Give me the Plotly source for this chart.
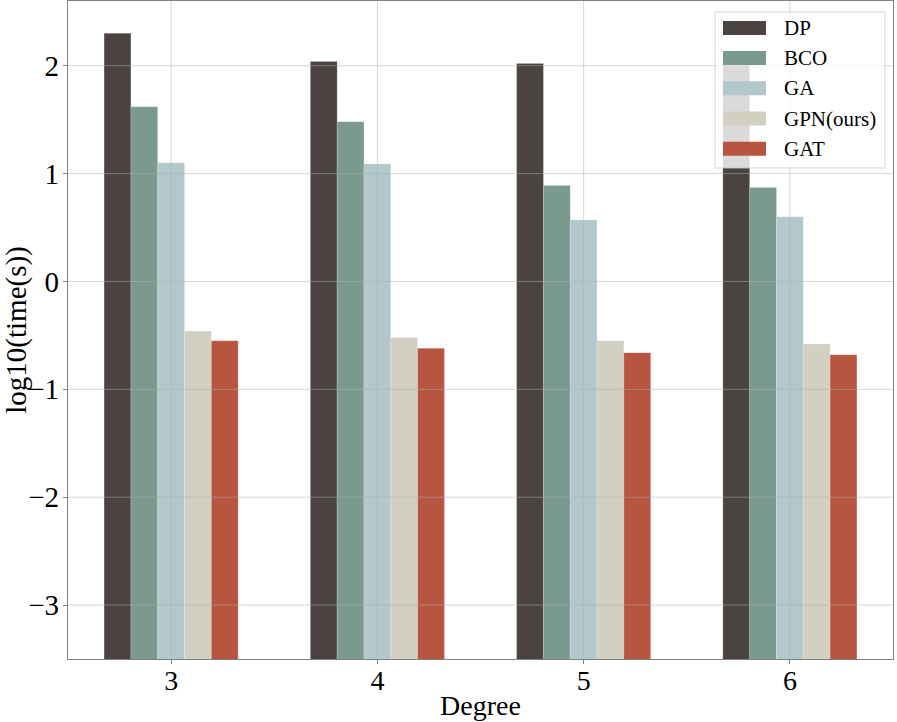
import plotly.graph_objects as go

degrees = [3, 4, 5, 6]
methods = ["DP", "BCO", "GA", "GPN(ours)", "GAT"]
dp = [2.30, 2.04, 2.02, 2.01]
bco = [1.62, 1.48, 0.89, 0.87]
ga = [1.10, 1.09, 0.57, 0.60]
gpn = [-0.46, -0.52, -0.55, -0.58]
gat = [-0.55, -0.62, -0.66, -0.68]
series = [dp, bco, ga, gpn, gat]
colors = ["#4b4341", "#7a9a8e", "#b2c8cc", "#d1d0c1", "#b85540"]
yticks = [-3, -2, -1, 0, 1, 2]
y_range = [-3.5, 2.6]
x_range = [2.5, 6.5]
bar_base = -4.0
bar_w = 0.13

FONT = "Liberation Serif, Times New Roman, serif"
fig = go.Figure()
n = len(methods)
for i, (name, vals, c) in enumerate(zip(methods, series, colors)):
    off = (i - (n - 1) / 2) * bar_w
    fig.add_trace(go.Bar(
        x=[d + off for d in degrees],
        y=[v - bar_base for v in vals],
        base=bar_base,
        width=bar_w,
        name=name,
        marker=dict(color=c, line=dict(width=0.6, color="rgba(255,255,255,0.3)")),
        showlegend=False,
    ))

# grid lines drawn above bars (matplotlib style with axisbelow=False)
gridc = "rgba(176,176,176,0.5)"
shapes = []
for t in degrees:
    shapes.append(dict(type="line", xref="x", yref="paper", x0=t, x1=t, y0=0, y1=1,
                       line=dict(color=gridc, width=1), layer="above"))
for t in yticks:
    shapes.append(dict(type="line", xref="paper", yref="y", x0=0, x1=1, y0=t, y1=t,
                       line=dict(color=gridc, width=1), layer="above"))

# custom legend (matplotlib look)
W, H = 897, 722
ml, mr, mt, mb = 68, 4, 1, 63
pw, ph = W - ml - mr, H - mt - mb
def px2paper(x, y):
    return (x - ml) / pw, 1 - (y - mt) / ph
x0, y0 = px2paper(715, 12)
x1, y1 = px2paper(885, 168)
shapes.append(dict(type="rect", xref="paper", yref="paper", x0=x0, x1=x1, y0=y1, y1=y0,
                   fillcolor="rgba(255,255,255,0.8)", line=dict(color="rgba(204,204,204,0.8)", width=1),
                   layer="above"))
annotations = []
ycent = [28, 58, 88.3, 118.5, 148.7]
for name, c, yc in zip(methods, colors, ycent):
    sx0, sy0 = px2paper(723, yc - 7)
    sx1, sy1 = px2paper(766, yc + 7)
    shapes.append(dict(type="rect", xref="paper", yref="paper", x0=sx0, x1=sx1, y0=sy1, y1=sy0,
                       fillcolor=c, line=dict(width=0), layer="above"))
    tx, ty = px2paper(782, yc)
    annotations.append(dict(x=tx, y=ty, xref="paper", yref="paper", text=name, showarrow=False,
                            xanchor="left", yanchor="middle",
                            font=dict(family=FONT, size=21, color="black")))

fig.update_layout(
    width=W, height=H,
    margin=dict(l=ml, r=mr, t=mt, b=mb, autoexpand=False),
    paper_bgcolor="white", plot_bgcolor="white",
    barmode="overlay",
    shapes=shapes, annotations=annotations,
    showlegend=False,
    font=dict(family=FONT, color="black"),
)
fig.update_xaxes(range=x_range, tickvals=degrees, ticktext=[str(d) for d in degrees],
                 showgrid=False, zeroline=False, automargin=False,
                 showline=True, linecolor="#808080", linewidth=1.2, mirror=True,
                 ticks="outside", ticklen=4, tickcolor="#808080",
                 ticklabelstandoff=-8,
                 tickfont=dict(family=FONT, size=28, color="black"),
                 title=dict(text="Degree", font=dict(family=FONT, size=28, color="black"), standoff=0))
fig.update_yaxes(range=y_range, tickvals=yticks,
                 showgrid=False, zeroline=False, automargin=False,
                 showline=True, linecolor="#808080", linewidth=1.2, mirror=True,
                 ticks="outside", ticklen=4, tickcolor="#808080",
                 ticklabelstandoff=-2,
                 tickfont=dict(family=FONT, size=29, color="black"),
                 title=dict(text="log10(time(s))", font=dict(family=FONT, size=29, color="black"), standoff=6))
fig.write_html("out.html", config={"displayModeBar": False},
               post_script="document.body.style.margin='0';document.body.style.overflow='hidden';")
